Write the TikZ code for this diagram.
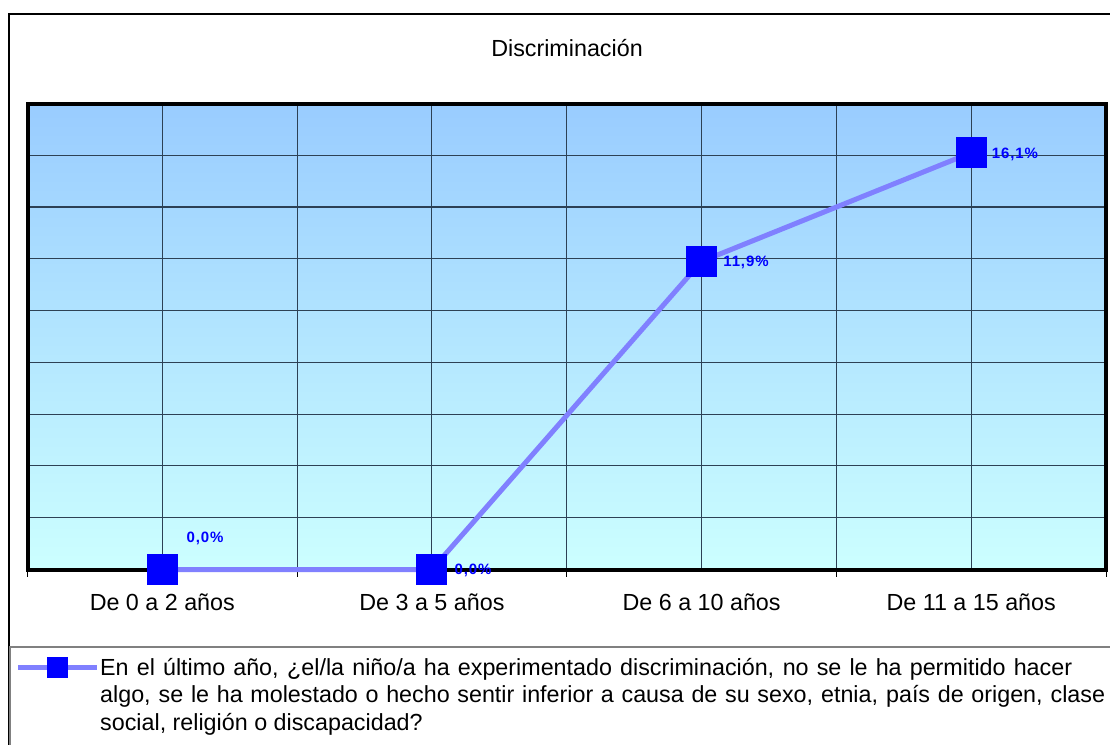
\documentclass[tikz,border=0pt]{standalone}
\usepackage{fontspec}
\setmainfont{Liberation Sans}
\newfontfamily\lblfont[LetterSpace=6]{Liberation Sans}
\definecolor{gridc}{RGB}{45,65,85}
\definecolor{seriesc}{RGB}{128,128,255}
\definecolor{markc}{RGB}{0,0,255}
\definecolor{topc}{RGB}{153,204,255}
\definecolor{botc}{RGB}{204,255,255}
\definecolor{legc}{RGB}{128,128,128}
\tikzset{
  gridline/.style={draw=gridc, line width=1.1pt},
  border/.style={draw=black, line width=4pt},
  series/.style={draw=seriesc, line width=5pt},
  marker/.style={fill=markc, draw=none, minimum size=31pt, inner sep=0pt, shape=rectangle},
  vlabel/.style={font=\lblfont\bfseries\fontsize{15}{16}\selectfont, text=markc, inner sep=0pt},
  catlabel/.style={font=\fontsize{23.3}{27}\selectfont, anchor=base, inner sep=0pt},
  ticks/.style={draw=black, line width=1pt}
}
\begin{document}
\begin{tikzpicture}[x=1pt,y=-1pt]
\useasboundingbox (0,0) rectangle (1110,744);
% outer frame
\draw[line width=1.3pt] (9,760) -- (9,14) -- (1115,14);
% legend box
\draw[draw=legc, line width=2pt] (9.5,760) -- (9.5,647) -- (1115,647);
% title
\node[catlabel] (title) at (567,56) {Discriminación};
% plot area
\shade[top color=topc, bottom color=botc] (27.5,103.5) rectangle (1106,569.5);
\foreach \k in {1,...,8} {
  \draw[gridline] (27.5,{569.5-\k*51.78}) -- (1106,{569.5-\k*51.78});
}
\foreach \k in {1,...,7} {
  \draw[gridline] ({27.5+\k*134.81},103.5) -- ({27.5+\k*134.81},569.5);
}
\draw[border] (27.5,103.5) rectangle (1106,569.5);
\foreach \k in {0,...,4} {
  \draw[ticks] ({27.5+\k*269.625},569.5) -- ({27.5+\k*269.625},577);
}
% data
\coordinate (c1) at (162.3,569.5);
\coordinate (c2) at (431.9,569.5);
\coordinate (c3) at (701.6,261.4);
\coordinate (c4) at (971.2,152.7);
\draw[series] (c1) -- (c2) -- (c3) -- (c4);
\node[marker] (p1) at (c1) {};
\node[marker] (p2) at (c2) {};
\node[marker] (p3) at (c3) {};
\node[marker] (p4) at (c4) {};
\node[vlabel] (l1) at (205,538) {0,0\%};
\node[vlabel] (l2) at (473,570) {0,0\%};
\node[vlabel] (l3) at (746,262) {11,9\%};
\node[vlabel] (l4) at (1015,154) {16,1\%};
% category labels
\node[catlabel] (x1) at (162.3,610) {De 0 a 2 años};
\node[catlabel] (x2) at (431.9,610) {De 3 a 5 años};
\node[catlabel] (x3) at (701.6,610) {De 6 a 10 años};
\node[catlabel] (x4) at (971.2,610) {De 11 a 15 años};
% legend
\coordinate (la) at (18,667);
\coordinate (lb) at (97,667);
\draw[series] (la) -- (lb);
\node[marker, minimum size=21pt] (lm) at (57.5,667) {};
\node[catlabel, anchor=base west] (lt1) at (100,675) {\makebox[972pt][s]{En el último año, ¿el/la niño/a ha experimentado discriminación, no se le ha permitido hacer}};
\node[catlabel, anchor=base west] (lt2) at (100,702.5) {\makebox[1005pt][s]{algo, se le ha molestado o hecho sentir inferior a causa de su sexo, etnia, país de origen, clase}};
\node[catlabel, anchor=base west] (lt3) at (100,730) {social, religión o discapacidad?};
\end{tikzpicture}
\end{document}
